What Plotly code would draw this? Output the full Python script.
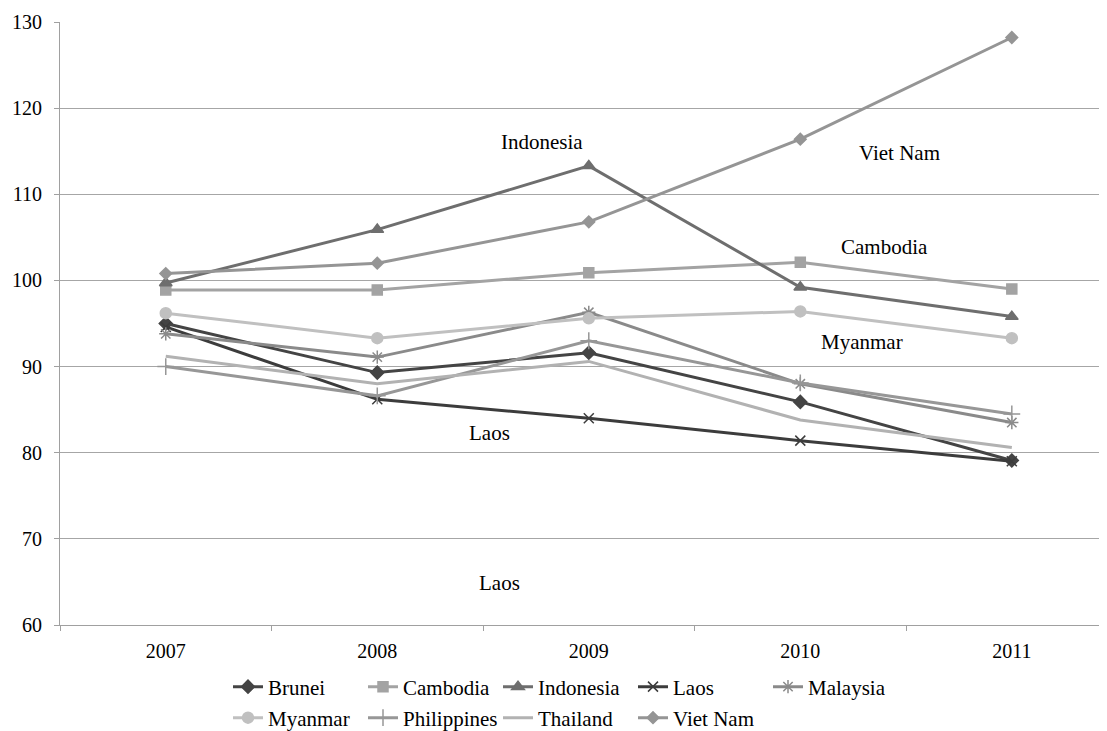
import plotly.graph_objects as go

years = ["2007", "2008", "2009", "2010", "2011"]
brunei = [95.0, 89.3, 91.6, 85.9, 79.1]
cambodia = [98.9, 98.9, 100.9, 102.1, 99.0]
indonesia = [99.7, 105.9, 113.3, 99.2, 95.8]
laos = [94.6, 86.2, 84.0, 81.4, 79.0]
malaysia = [93.8, 91.1, 96.3, 88.0, 83.5]
myanmar = [96.2, 93.3, 95.6, 96.4, 93.3]
philippines = [90.0, 86.6, 93.0, 88.1, 84.5]
thailand = [91.2, 88.0, 90.6, 83.8, 80.6]
vietnam = [100.8, 102.0, 106.8, 116.4, 128.2]

series = [
    ("Brunei", brunei, "#444444", "diamond", 10, "legend"),
    ("Cambodia", cambodia, "#a3a3a3", "square", 10, "legend"),
    ("Indonesia", indonesia, "#6e6e6e", "triangle-up", 11, "legend"),
    ("Laos", laos, "#3c3c3c", "x-thin-open", 10, "legend"),
    ("Malaysia", malaysia, "#8a8a8a", "asterisk-open", 11, "legend"),
    ("Myanmar", myanmar, "#c0c0c0", "circle", 11, "legend2"),
    ("Philippines", philippines, "#979797", "cross-thin-open", 12, "legend2"),
    ("Thailand", thailand, "#b2b2b2", None, 0, "legend2"),
    ("Viet Nam", vietnam, "#959595", "diamond", 9, "legend2"),
]

annotations_text = [
    ("Indonesia", 1.78, 116.1),
    ("Viet Nam", 3.47, 114.8),
    ("Cambodia", 3.4, 103.9),
    ("Myanmar", 3.29, 92.9),
    ("Laos", 1.53, 82.3),
    ("Laos", 1.58, 64.9),
]

FONT = "Liberation Serif, Times New Roman, serif"

fig = go.Figure()
for name, vals, col, sym, sz, leg in series:
    if sym is None:
        fig.add_trace(go.Scatter(x=years, y=vals, name=name, mode="lines",
                                 legend=leg, line=dict(color=col, width=3)))
    else:
        fig.add_trace(go.Scatter(
            x=years, y=vals, name=name, mode="lines+markers", legend=leg,
            line=dict(color=col, width=3),
            marker=dict(symbol=sym, size=sz, color=col,
                        line=dict(color=col, width=1.5))))

for txt, xv, yv in annotations_text:
    fig.add_annotation(x=xv, y=yv, text=txt, showarrow=False,
                       font=dict(family=FONT, size=21, color="black"))

leg_common = dict(orientation="h", xanchor="left", yanchor="middle",
                  font=dict(family=FONT, size=21, color="black"),
                  itemwidth=30, entrywidth=90, entrywidthmode="pixels",
                  bgcolor="rgba(0,0,0,0)")
fig.update_layout(
    width=1107, height=731,
    margin=dict(l=52, r=8, t=14, b=114, autoexpand=False),
    paper_bgcolor="white", plot_bgcolor="white",
    font=dict(family=FONT, size=20, color="black"),
    showlegend=True,
    legend=dict(x=(228 - 60) / 1047, y=-(687 - 625) / 603, **leg_common),
    legend2=dict(x=(228 - 60) / 1047, y=-(718 - 625) / 603, **leg_common),
)
fig.update_xaxes(type="category", range=[-0.5, 4.45], automargin=False,
                 showline=True, linecolor="#a0a0a0", linewidth=1,
                 ticks="outside", ticklen=5, tickcolor="#a0a0a0",
                 ticklabelstandoff=8,
                 tickfont=dict(family=FONT, size=20, color="black"),
                 tickson="boundaries", showgrid=False, zeroline=False)
fig.update_yaxes(range=[60, 130], dtick=10, showline=True, automargin=False,
                 linecolor="#a0a0a0", linewidth=1,
                 ticks="outside", ticklen=5, tickcolor="#a0a0a0",
                 ticklabelstandoff=8,
                 tickfont=dict(family=FONT, size=20, color="black"),
                 gridcolor="#a6a6a6", gridwidth=1, zeroline=False)

fig.write_html("out.html")
